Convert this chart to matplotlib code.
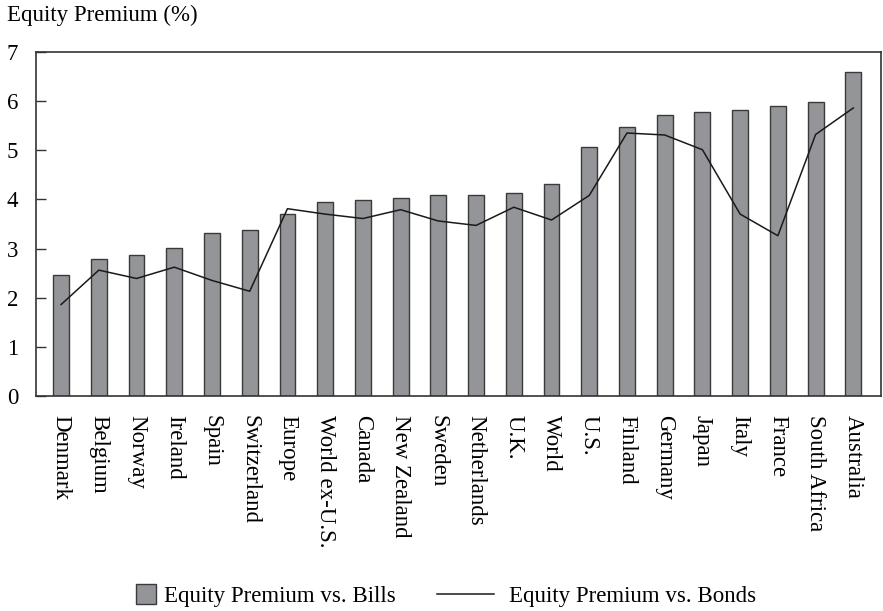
import numpy as np
import matplotlib.pyplot as plt
from matplotlib.patches import Patch, Rectangle
from matplotlib.lines import Line2D
from matplotlib.legend_handler import HandlerPatch

countries = ['Denmark', 'Belgium', 'Norway', 'Ireland', 'Spain', 'Switzerland',
             'Europe', 'World ex-U.S.', 'Canada', 'New Zealand', 'Sweden',
             'Netherlands', 'U.K.', 'World', 'U.S.', 'Finland', 'Germany',
             'Japan', 'Italy', 'France', 'South Africa', 'Australia']
vs_bills = [2.47, 2.78, 2.86, 3.01, 3.32, 3.37, 3.71, 3.95, 3.99, 4.02, 4.08,
            4.08, 4.13, 4.31, 5.07, 5.48, 5.71, 5.77, 5.82, 5.90, 5.98, 6.59]
vs_bonds = [1.86, 2.56, 2.39, 2.62, 2.35, 2.13, 3.81, 3.70, 3.61, 3.79, 3.56,
            3.47, 3.84, 3.58, 4.08, 5.35, 5.31, 5.01, 3.70, 3.26, 5.32, 5.86]

plt.rcParams['font.family'] = ['Liberation Serif', 'DejaVu Serif']
fs = 16.5


def square_patch(legend, orig_handle, xdescent, ydescent, width, height, fontsize):
    # small square box for the bar entry, sitting near the text
    s = 0.87 * fontsize
    x0 = -xdescent + width + 0.3 * fontsize - s
    y0 = -ydescent + (height - s) / 2
    return Rectangle((x0, y0), s, s)


fig = plt.figure(figsize=(8.83, 6.11), dpi=100)
ax = fig.add_axes([0.041, 0.352, 0.957, 0.563])

x = np.arange(len(countries))
ax.bar(x, vs_bills, width=0.42, color='#939598', edgecolor='#3a3a3a', linewidth=1.0)
ax.plot(x, vs_bonds, color='#1a1a1a', linewidth=1.1)

ax.set_xlim(-0.66, 21.74)
ax.set_ylim(0, 7)
ax.set_yticks(range(0, 8))
ax.tick_params(axis='y', direction='in', length=7, width=1, color='#333333',
               labelsize=fs, pad=13)
ax.set_xticks(x)
ax.set_xticklabels(countries, rotation=270, fontsize=fs)
ax.tick_params(axis='x', length=0, pad=14)
for s in ax.spines.values():
    s.set_color('#333333')
    s.set_linewidth(1.2)

fig.text(0.008, 0.992, 'Equity Premium (%)', fontsize=fs, va='top', ha='left')

handles = [Patch(facecolor='#939598', edgecolor='#3a3a3a', linewidth=1.0),
           Line2D([0], [0], color='#1a1a1a', linewidth=1.1)]
fig.legend(handles, ['Equity Premium vs. Bills', 'Equity Premium vs. Bonds'],
           loc='center', bbox_to_anchor=(0.48, 0.023), ncol=2, frameon=False,
           fontsize=fs, handlelength=2.5, columnspacing=1.8,
           handletextpad=0.65,
           handler_map={Patch: HandlerPatch(patch_func=square_patch)})

fig.savefig('out.png', dpi=100)
